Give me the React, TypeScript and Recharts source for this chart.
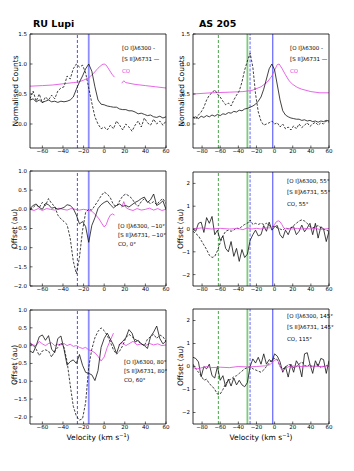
import React from 'react';
import { LineChart, Line, XAxis, YAxis, ReferenceLine } from 'recharts';

// ---------- velocity grids ----------
const LV = [-72,-69,-66,-63,-60,-57,-54,-51,-48,-45,-42,-39,-36,-33,-30,-27,-24,-21,-18,-15,-12,-9,-6,-3,0,3,6,9,12,15,18,21,24,27,30,33,36,39,42,45,48,51,54,57,60];
const RV = [-90,-87,-84,-81,-78,-75,-72,-69,-66,-63,-60,-57,-54,-51,-48,-45,-42,-39,-36,-33,-30,-27,-24,-21,-18,-15,-12,-9,-6,-3,0,3,6,9,12,15,18,21,24,27,30,33,36,39,42,45,48,51,54,57,60];

// ---------- RU Lupi, normalised ----------
const tlSII = [0.40,0.42,0.37,0.40,0.36,0.38,0.40,0.37,0.38,0.36,0.38,0.37,0.38,0.40,0.45,0.58,0.70,0.80,0.92,1.00,0.88,0.62,0.40,0.33,0.32,0.30,0.29,0.28,0.28,0.25,0.24,0.24,0.22,0.22,0.20,0.17,0.18,0.16,0.14,0.15,0.12,0.11,0.13,0.10,0.12];
const tlOI = [0.42,0.55,0.38,0.50,0.35,0.45,0.40,0.48,0.42,0.55,0.60,0.62,0.80,0.75,0.92,1.00,0.95,0.98,0.85,0.60,0.35,0.12,0.00,-0.08,-0.05,-0.10,-0.02,-0.08,0.05,-0.02,-0.10,0.00,-0.05,-0.12,-0.02,0.05,-0.05,0.10,0.02,-0.02,0.08,0.00,0.05,-0.02,0.05];
const tlCOv = [-72,-60,-50,-40,-30,-25,-20,-15,-10,-6,-2,0,2,5,8,10,11,17,19,21,30,40,50,60];
const tlCO = [0.63,0.64,0.65,0.67,0.69,0.70,0.73,0.77,0.85,0.93,0.99,1.00,0.98,0.90,0.82,0.78,null,0.68,0.72,0.69,0.66,0.64,0.62,0.60];

// ---------- AS 205, normalised ----------
const trSII = [0.10,0.12,0.09,0.13,0.11,0.14,0.12,0.15,0.13,0.16,0.14,0.17,0.16,0.19,0.18,0.21,0.20,0.23,0.22,0.25,0.26,0.28,0.30,0.33,0.38,0.45,0.58,0.75,0.92,1.00,0.90,0.65,0.40,0.22,0.15,0.12,0.10,0.09,0.08,0.08,0.06,0.07,0.05,0.06,0.04,0.05,0.03,0.05,0.04,0.06,0.05];
const trOI = [0.12,0.08,0.15,0.20,0.28,0.40,0.48,0.52,0.57,0.50,0.45,0.38,0.32,0.35,0.30,0.40,0.48,0.55,0.70,0.90,1.05,1.18,0.95,0.50,0.20,0.05,-0.02,0.00,0.02,0.05,0.00,0.02,-0.05,0.00,-0.08,-0.05,-0.10,-0.03,-0.08,0.00,-0.06,-0.02,0.02,-0.04,0.00,0.03,-0.02,0.02,0.00,0.05,0.03];
const trCOv = [-90,-70,-50,-35,-25,-15,-8,-3,0,3,5,8,12,16,20,25,30,40,50,60];
const trCO = [0.50,0.52,0.53,0.54,0.56,0.62,0.70,0.80,0.90,0.99,1.00,0.93,0.82,0.72,0.66,0.61,0.58,0.54,0.52,0.52];

// ---------- RU Lupi, offsets -10 / 0 deg ----------
const mlOI = [0.00,0.05,0.12,0.05,0.18,0.10,0.28,0.15,0.08,-0.15,-0.25,-0.32,-0.40,-0.75,-1.35,-1.68,-1.25,-0.55,-0.08,0.00,-0.02,0.10,0.22,0.35,0.45,0.40,0.30,0.12,0.08,0.22,0.35,0.40,0.35,0.28,0.15,0.08,0.20,0.28,0.20,0.15,0.20,0.12,0.22,0.28,0.15];
const mlSII = [0.02,0.10,0.14,0.05,0.00,0.15,0.12,0.03,0.05,0.00,0.02,0.05,0.12,0.10,0.02,-0.15,-0.38,-0.32,-0.45,-0.86,-0.42,-0.22,0.02,0.12,0.18,0.22,0.12,0.04,0.10,0.14,0.08,0.10,0.06,0.12,0.18,0.22,0.28,0.32,0.18,0.25,0.40,0.10,0.15,0.22,0.00];
const mlCOv = [-72,-68,-64,-60,-56,-52,-48,-44,-40,-36,-32,-28,-24,-20,-16,-12,-8,-5,-2,0,2,4,6,8,10,11,17,19,21,24,28,32,36,40,44,48,52,56,60];
const mlCO = [0.00,-0.03,0.02,-0.03,0.02,0.00,-0.02,0.03,0.00,-0.02,0.02,0.00,-0.02,0.00,-0.02,-0.05,-0.15,-0.25,-0.38,-0.46,-0.40,-0.25,-0.15,-0.12,-0.15,null,0.05,0.20,0.05,0.00,-0.03,0.02,-0.02,0.00,0.03,-0.02,0.02,-0.03,0.00];

// ---------- AS 205, offsets 55 deg ----------
const mrSII = [0.00,-0.10,0.25,0.30,-0.15,0.50,0.25,0.55,-0.25,-0.05,-0.50,-0.30,-0.85,-1.00,-0.55,-1.20,-0.85,-1.42,-0.90,-1.25,-1.10,-0.50,-0.25,-0.05,-0.30,-0.25,0.15,-0.10,0.30,-0.05,0.10,0.15,-0.25,-0.40,-0.05,-0.25,0.05,0.10,-0.25,-0.10,0.17,-0.12,0.05,0.25,-0.25,0.25,-0.40,0.10,0.00,-0.55,-0.10];
const mrOI = [-0.10,-0.20,-0.30,-0.50,-0.70,-0.90,-1.15,-1.25,-1.20,-0.95,-0.60,-0.30,-0.10,-0.05,-0.10,-0.05,0.05,0.00,0.12,0.20,0.25,0.40,0.20,0.25,0.20,0.25,0.20,0.25,0.15,0.10,0.12,0.05,0.00,-0.05,0.05,0.00,0.05,0.15,0.25,0.35,0.40,0.35,0.25,0.10,0.05,0.10,0.15,0.05,0.00,-0.05,-0.10];
const mrCOv = [-90,-80,-70,-60,-50,-40,-35,-30,-25,-20,-15,-10,-5,-2,0,2,4,6,8,10,12,15,20,25,30,35,40,45,50,55,60];
const mrCO = [0.00,0.05,0.00,0.03,0.00,0.02,-0.03,0.05,0.00,0.03,0.00,0.05,0.05,0.10,0.20,0.32,0.36,0.32,0.20,0.05,0.00,0.02,0.00,0.03,0.00,0.02,0.00,0.03,-0.02,0.00,0.02];

// ---------- RU Lupi, offsets 80 / 60 deg ----------
const blSII = [-0.15,-0.20,0.00,0.25,0.30,0.15,0.28,-0.10,-0.20,0.20,0.27,-0.10,-0.55,-0.45,-0.40,-0.50,-0.25,-0.55,-0.75,-0.78,-0.82,-0.98,-0.70,-0.05,0.20,0.35,0.18,0.02,-0.22,0.04,0.12,0.22,0.45,0.35,0.10,0.15,0.05,0.00,-0.08,0.25,0.38,0.55,0.20,0.05,0.13];
const blOI = [0.05,0.02,-0.10,-0.28,-0.15,-0.12,-0.15,-0.32,-0.15,-0.05,0.08,-0.05,-0.45,-1.10,-1.70,-1.98,-2.09,-2.05,-1.60,-0.60,-0.10,0.22,0.40,0.50,0.42,0.28,0.10,-0.12,-0.24,-0.15,0.00,0.22,0.32,0.25,0.18,0.12,0.05,0.00,0.18,0.25,0.32,0.20,0.30,0.25,0.12];
const blCOv = [-72,-69,-66,-63,-60,-57,-54,-51,-48,-45,-42,-39,-36,-33,-30,-27,-24,-21,-18,-15,-12,-9,-6,-3,0,3,6,9,11,14,18,21,24,28,32,36,40,44,48,52,56,60];
const blCO = [0.08,0.02,0.00,0.12,0.05,0.00,0.06,0.08,0.00,0.04,0.02,0.06,0.00,0.04,-0.02,0.00,-0.05,-0.08,-0.05,-0.12,-0.15,-0.20,-0.30,-0.43,-0.32,-0.05,0.15,0.35,null,0.02,0.08,0.00,0.05,0.12,0.02,0.05,0.00,0.06,0.02,0.05,0.00,0.02];

// ---------- AS 205, offsets 145 / 115 deg ----------
const brSII = [0.40,0.35,0.20,-0.45,0.00,-0.10,0.10,-0.40,-0.50,0.00,-0.60,-0.40,-0.88,-0.55,-0.85,-0.50,-0.80,-0.60,-0.80,-0.88,-0.70,0.00,0.33,0.15,0.40,0.10,0.55,0.10,0.30,0.20,0.55,0.45,0.20,-0.25,0.00,-0.46,0.10,-0.25,0.25,0.05,-0.45,0.55,0.60,0.10,-0.30,0.25,0.00,0.35,0.30,-0.30,0.25];
const brOI = [0.10,-0.10,-0.25,-0.40,-0.60,-0.55,-0.75,-0.85,-1.00,-1.20,-1.20,-1.00,-0.75,-0.60,-0.55,-0.45,-0.40,-0.30,-0.20,-0.10,-0.05,0.00,-0.10,-0.15,-0.20,-0.25,-0.15,0.00,0.15,0.30,0.35,0.30,0.00,-0.10,-0.05,0.10,0.05,-0.05,0.00,0.10,0.20,0.05,0.00,0.10,-0.05,0.05,0.10,-0.05,0.00,0.05,0.00];
const brCOv = [-90,-85,-80,-75,-70,-60,-50,-40,-30,-20,-10,-5,-2,0,2,4,6,8,10,13,16,20,30,40,50,60];
const brCO = [-0.05,-0.10,-0.05,0.00,-0.05,-0.03,-0.05,0.00,-0.02,0.00,0.03,0.08,0.20,0.28,0.30,0.22,0.00,-0.15,-0.17,-0.05,0.00,0.02,0.00,0.02,0.00,0.02];

// ---------- ticks ----------
const leftXTicks = [-60, -40, -20, 0, 20, 40, 60];
const rightXTicks = [-80, -60, -40, -20, 0, 20, 40, 60];
const normYTicks = [0, 0.5, 1.0, 1.5];
const offLYTicks = [-2, -1.5, -1, -0.5, 0, 0.5, 1];
const offRYTicks = [-2, -1, 0, 1, 2];

const FONT = 'DejaVu Sans';
const MAG = '#e040e0';
const BLK = '#111111';

type Pt = { v: number; y: number | null };
const zip = (vs: number[], ys: (number | null)[]): Pt[] => vs.map((v, i) => ({ v, y: ys[i] }));
const minus = (s: string) => s.replace('-', '\u2212');
const fmtInt = (v: number) => minus(String(v));
const fmt1 = (v: number) => minus(v.toFixed(1));

type Series = { data: Pt[]; color: string; dash?: string; w?: number };
type Ref = { x: number; color: string; dash?: string; w: number };

const leftRefs: Ref[] = [
  { x: -26, color: '#3a3aff', dash: '3 2', w: 0.9 },
  { x: -15, color: '#8c8cff', w: 1.8 },
];
const rightRefs: Ref[] = [
  { x: -62, color: '#3a9a3a', dash: '3 2', w: 0.9 },
  { x: -30, color: '#7ccc7c', w: 1.8 },
  { x: -27, color: '#a8a8ff', dash: '3 1.5', w: 1.8 },
  { x: -2, color: '#4444ff', w: 1 },
];

type PanelProps = {
  left: number; top: number; width: number; height: number;
  // desired distances from cell edges to the plot frame
  frame: { top: number; right: number; bottom: number; left: number };
  xDom: [number, number]; xTicks: number[];
  yDom: [number, number]; yTicks: number[]; yFmt: (v: number) => string;
  series: Series[]; refs: Ref[];
};

const tickStyle = { fontSize: 5.5, fill: '#000', fontFamily: FONT };
const axisLine = { stroke: '#000', strokeWidth: 0.8 };
const tickLine = { stroke: '#000', strokeWidth: 0.6 };

const XH = 10; // bottom axis height
const YW = 10; // left axis width

function Panel(p: PanelProps) {
  const f = p.frame;
  const margin = { top: f.top - 1, right: f.right - 1, bottom: f.bottom - XH, left: f.left - YW };
  return (
    <div style={{ position: 'absolute', left: p.left, top: p.top, width: p.width, height: p.height }}>
      <LineChart width={p.width} height={p.height} margin={margin}>
        <XAxis xAxisId={0} orientation="bottom" dataKey="v" type="number" domain={p.xDom} ticks={p.xTicks} allowDataOverflow interval={0}
          height={XH} tickSize={-2.5} tickMargin={4} tick={tickStyle} tickFormatter={fmtInt}
          axisLine={axisLine} tickLine={tickLine} />
        <XAxis xAxisId="top" orientation="top" dataKey="v" type="number" domain={p.xDom} ticks={p.xTicks} allowDataOverflow interval={0}
          height={1} tickSize={-2.5} tick={false} axisLine={axisLine} tickLine={tickLine} />
        <YAxis yAxisId={0} orientation="left" type="number" domain={p.yDom} ticks={p.yTicks} allowDataOverflow interval={0}
          width={YW} tickSize={-2.5} tickMargin={5.5} tick={tickStyle} tickFormatter={p.yFmt}
          axisLine={axisLine} tickLine={tickLine} />
        <YAxis yAxisId="right" orientation="right" type="number" domain={p.yDom} ticks={p.yTicks} allowDataOverflow interval={0}
          width={1} tickSize={-2.5} tick={false} axisLine={axisLine} tickLine={tickLine} />
        {p.refs.map((r, i) => (
          <ReferenceLine key={'r' + i} x={r.x} stroke={r.color} strokeWidth={r.w} strokeDasharray={r.dash} />
        ))}
        {p.series.map((s, i) => (
          <Line key={'s' + i} data={s.data} dataKey="y" type="linear" stroke={s.color} strokeWidth={s.w ?? 0.8}
            strokeDasharray={s.dash} dot={false} activeDot={false} isAnimationActive={false} connectNulls={false} />
        ))}
      </LineChart>
    </div>
  );
}

const DASH = '2.5 1.5';

export default function App() {
  const Lx: [number, number] = [-72, 60];
  const Rx: [number, number] = [-90, 60];
  return (
    <div style={{ position: 'absolute', left: 0, top: 0, width: 354, height: 471, background: '#fff', overflow: 'hidden' }}>
      <Panel left={0} top={0} width={177} height={160} frame={{ top: 34, right: 11, bottom: 12, left: 30 }}
        xDom={Lx} xTicks={leftXTicks} yDom={[-0.4, 1.5]} yTicks={normYTicks} yFmt={fmt1} refs={leftRefs}
        series={[
          { data: zip(tlCOv, tlCO), color: MAG },
          { data: zip(LV, tlOI), color: BLK, dash: DASH },
          { data: zip(LV, tlSII), color: BLK },
        ]} />
      <Panel left={177} top={0} width={177} height={160} frame={{ top: 34, right: 25, bottom: 12, left: 16 }}
        xDom={Rx} xTicks={rightXTicks} yDom={[-0.4, 1.5]} yTicks={normYTicks} yFmt={fmt1} refs={rightRefs}
        series={[
          { data: zip(trCOv, trCO), color: MAG },
          { data: zip(RV, trOI), color: BLK, dash: DASH },
          { data: zip(RV, trSII), color: BLK },
        ]} />
      <Panel left={0} top={160} width={177} height={140} frame={{ top: 11, right: 11, bottom: 14, left: 30 }}
        xDom={Lx} xTicks={leftXTicks} yDom={[-2, 1]} yTicks={offLYTicks} yFmt={fmt1} refs={leftRefs}
        series={[
          { data: zip(mlCOv, mlCO), color: MAG },
          { data: zip(LV, mlOI), color: BLK, dash: DASH },
          { data: zip(LV, mlSII), color: BLK },
        ]} />
      <Panel left={177} top={160} width={177} height={140} frame={{ top: 12, right: 25, bottom: 14, left: 16 }}
        xDom={Rx} xTicks={rightXTicks} yDom={[-2.5, 2.5]} yTicks={offRYTicks} yFmt={fmtInt} refs={rightRefs}
        series={[
          { data: zip(RV, mrOI), color: BLK, dash: DASH },
          { data: zip(RV, mrSII), color: BLK },
          { data: zip(mrCOv, mrCO), color: MAG },
        ]} />
      <Panel left={0} top={300} width={177} height={171} frame={{ top: 10, right: 11, bottom: 47, left: 30 }}
        xDom={Lx} xTicks={leftXTicks} yDom={[-2.2, 1]} yTicks={offLYTicks} yFmt={fmt1} refs={leftRefs}
        series={[
          { data: zip(blCOv, blCO), color: MAG },
          { data: zip(LV, blOI), color: BLK, dash: DASH },
          { data: zip(LV, blSII), color: BLK },
        ]} />
      <Panel left={177} top={300} width={177} height={171} frame={{ top: 9, right: 25, bottom: 47, left: 16 }}
        xDom={Rx} xTicks={rightXTicks} yDom={[-2.5, 2.5]} yTicks={offRYTicks} yFmt={fmtInt} refs={rightRefs}
        series={[
          { data: zip(RV, brOI), color: BLK, dash: DASH },
          { data: zip(RV, brSII), color: BLK },
          { data: zip(brCOv, brCO), color: MAG },
        ]} />

      <svg width={354} height={471} style={{ position: 'absolute', left: 0, top: 0, pointerEvents: 'none' }} fontFamily={FONT}>
        <text x={33} y={27} fontSize={9.5} fontWeight="bold" fill="#000">RU Lupi</text>
        <text x={199} y={27} fontSize={9.5} fontWeight="bold" fill="#000">AS 205</text>

        <text x={15} y={91} fontSize={7.5} textAnchor="middle" dominantBaseline="central" transform="rotate(-90 15 91)">Normalised Counts</text>
        <text x={181} y={91} fontSize={7.5} textAnchor="middle" dominantBaseline="central" transform="rotate(-90 181 91)">Normalised Counts</text>
        <text x={14} y={229} fontSize={7.5} textAnchor="middle" dominantBaseline="central" transform="rotate(-90 14 229)">Offset (au)</text>
        <text x={180} y={229} fontSize={7.5} textAnchor="middle" dominantBaseline="central" transform="rotate(-90 180 229)">Offset (au)</text>
        <text x={14} y={365} fontSize={7.5} textAnchor="middle" dominantBaseline="central" transform="rotate(-90 14 365)">Offset (au)</text>
        <text x={180} y={366} fontSize={7.5} textAnchor="middle" dominantBaseline="central" transform="rotate(-90 180 366)">Offset (au)</text>

        <text x={98} y={440} fontSize={7.5} textAnchor="middle">Velocity (km s<tspan dy={-3} fontSize={5}>{'\u22121'}</tspan><tspan dy={3}>)</tspan></text>
        <text x={261} y={440} fontSize={7.5} textAnchor="middle">Velocity (km s<tspan dy={-3} fontSize={5}>{'\u22121'}</tspan><tspan dy={3}>)</tspan></text>

        <g fontSize={5.5} fill="#000">
          <text x={122} y={50}>[O I]λ6300 -</text>
          <text x={122} y={61}>[S II]λ6731 —</text>
          <text x={122} y={73} fill={MAG}>CO</text>

          <text x={290} y={50}>[O I]λ6300 -</text>
          <text x={290} y={61}>[S II]λ6731 —</text>
          <text x={290} y={73} fill={MAG}>CO</text>

          <text x={118} y={228}>[O I]λ6300, −10°</text>
          <text x={118} y={237}>[S II]λ6731, −10°</text>
          <text x={118} y={246}>CO, 0°</text>

          <text x={287} y={183}>[O I]λ6300, 55°</text>
          <text x={287} y={194}>[S II]λ6731, 55°</text>
          <text x={287} y={206}>CO, 55°</text>

          <text x={124} y={364}>[O I]λ6300, 80°</text>
          <text x={124} y={373}>[S II]λ6731, 80°</text>
          <text x={124} y={382}>CO, 60°</text>

          <text x={287} y={318}>[O I]λ6300, 145°</text>
          <text x={287} y={329}>[S II]λ6731, 145°</text>
          <text x={287} y={341}>CO, 115°</text>
        </g>
      </svg>
    </div>
  );
}
